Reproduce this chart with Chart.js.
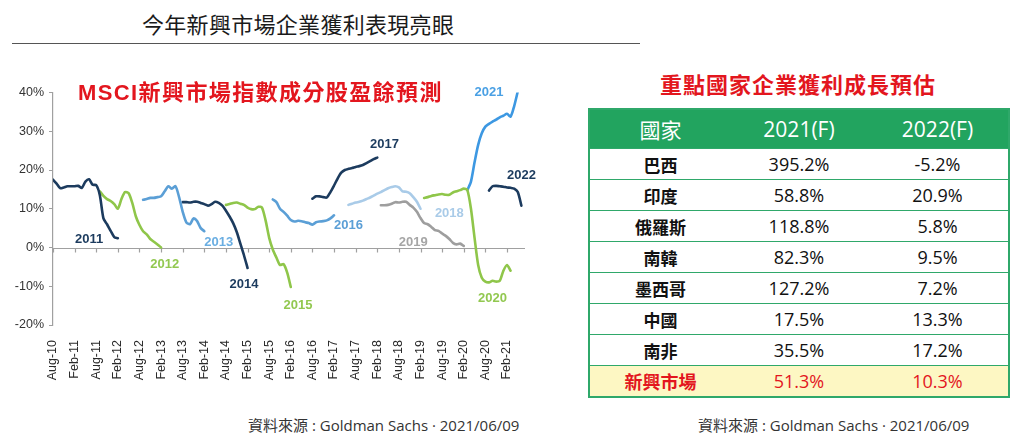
<!DOCTYPE html>
<html>
<head>
<meta charset="utf-8">
<script src="https://cdn.jsdelivr.net/npm/chart.js@4.4.1/dist/chart.umd.min.js"></script>
<style>
  html,body{margin:0;padding:0;}
  body{width:1024px;height:440px;background:#fff;position:relative;overflow:hidden;font-family:"Open Sans","Noto Sans CJK TC",sans-serif;}
  .abs{position:absolute;white-space:nowrap;}
  #mainTitle{left:142px;top:8px;font-size:22px;letter-spacing:0.3px;color:#1a1a1a;line-height:30px;font-family:"Noto Sans CJK TC",sans-serif;}
  #rule{left:12px;top:43px;width:628px;height:0;border-top:1.5px solid #555;}
  #chartTitle{left:78px;top:79px;font-size:22px;font-weight:bold;letter-spacing:1.4px;color:#e3161e;line-height:28px;font-family:"Liberation Sans","Noto Sans CJK TC",sans-serif;}
  #chartBox{left:0;top:80px;width:540px;height:330px;}
  #tableTitle{left:588px;top:69px;width:420px;text-align:center;font-size:22px;font-weight:bold;letter-spacing:1px;color:#e3161e;line-height:28px;font-family:"Noto Sans CJK TC",sans-serif;}
  #tbl{left:588px;top:108px;width:420px;border-collapse:collapse;border:2px solid #2fa86a;table-layout:fixed;}
  #tbl th{background:#22a45f;color:#fff;font-weight:normal;font-size:21px;height:38px;padding:0;text-align:center;}
  #tbl td{height:30px;padding:0;text-align:center;border-top:1.5px solid #2fa86a;font-size:18px;color:#111;}
  #tbl td.name{font-family:"Noto Sans CJK TC",sans-serif;font-weight:bold;font-size:17px;}
  #tbl tr.em td{background:#fdf7c3;color:#e3161e;}
  #tbl tr.em td.name{font-size:18px;}
  .src{top:414px;font-size:15px;color:#333;line-height:22px;}
</style>
</head>
<body>
<div id="mainTitle" class="abs">今年新興市場企業獲利表現亮眼</div>
<div id="rule" class="abs"></div>
<div id="chartBox" class="abs"><canvas id="c" width="540" height="330"></canvas></div>
<div id="chartTitle" class="abs">MSCI新興市場指數成分股盈餘預測</div>
<div id="tableTitle" class="abs">重點國家企業獲利成長預估</div>
<table id="tbl" class="abs">
  <colgroup><col style="width:142px"><col style="width:136px"><col style="width:142px"></colgroup>
  <thead><tr id="hdr"></tr></thead>
  <tbody id="tbody"></tbody>
</table>
<div class="abs src" style="left:248px;">資料來源 : Goldman Sachs · 2021/06/09</div>
<div class="abs src" style="left:698px;">資料來源 : Goldman Sachs · 2021/06/09</div>

<script>
// ---------- DATA ----------
const tickLabels = ['Aug-10','Feb-11','Aug-11','Feb-12','Aug-12','Feb-13','Aug-13','Feb-14','Aug-14','Feb-15','Aug-15','Feb-16','Aug-16','Feb-17','Aug-17','Feb-18','Aug-18','Feb-19','Aug-19','Feb-20','Aug-20','Feb-21'];

const seriesNames = ['2011','2012','2013','2014','2015','2016','2017','2018','2019','2020','2021','2022'];
const seriesStart = ['Aug-10','Sep-11','Sep-12','Aug-13','Aug-14','Sep-15','Aug-16','Jun-17','Mar-18','Mar-19','Mar-20','Sep-20'];

const eps2011 = [17.5,16.5,15.3,15.5,15.8,15.8,15.8,15.9,15.4,17.0,17.6,16.2,16.1,13.5,7.5,6.0,4.3,2.7,2.4];
const eps2012 = [14.5,13.3,12.5,12.0,11.2,10.0,12.5,14.3,14.0,11.5,8.0,5.8,4.2,3.4,2.2,1.5,0.8,0.0];
const eps2013 = [12.3,12.5,12.8,12.8,13.0,13.2,14.5,15.8,15.2,15.8,13.0,9.2,6.5,6.0,7.5,6.8,5.0,4.2];
const eps2014 = [11.7,11.7,11.6,11.8,11.8,11.5,11.2,10.8,11.2,11.8,11.5,10.8,9.5,8.0,6.3,4.0,1.0,-2.0,-5.3];
const eps2015 = [11.0,11.2,11.5,11.6,11.3,11.0,10.3,9.9,9.9,10.5,10.3,7.0,2.5,-0.5,-2.6,-4.5,-4.3,-6.5,-10.2];
const eps2016 = [12.4,11.7,10.0,9.2,8.2,7.1,6.7,6.9,6.8,6.5,6.3,5.9,6.5,6.7,6.8,7.0,7.5,8.3];
const eps2017 = [12.6,13.2,13.2,13.0,12.9,14.3,16.0,17.8,19.3,20.0,20.3,20.5,20.8,21.0,21.3,21.8,22.3,22.8,23.2];
const eps2018 = [11.0,11.3,11.6,11.8,12.1,12.5,12.9,13.4,13.9,14.3,14.8,15.3,15.6,15.8,15.5,14.5,14.4,14.0,13.0,11.8,10.0];
const eps2019 = [10.9,10.9,11.0,11.3,11.7,11.6,11.8,11.8,11.0,10.3,9.2,7.6,6.3,6.0,5.3,4.5,4.3,3.6,3.0,2.2,1.2,0.8,1.0,0.4];
const eps2020 = [12.8,13.0,13.3,13.5,13.7,13.8,13.6,13.6,14.2,14.5,14.8,15.2,14.8,10.0,2.5,-4.5,-7.8,-8.8,-9.0,-8.6,-8.8,-8.6,-6.0,-4.5,-6.0];
const eps2021 = [14.8,17.0,22.0,26.5,29.5,31.2,31.9,32.5,33.0,33.6,34.0,34.5,33.8,36.5,40.3];
const eps2022 = [14.7,15.8,15.9,15.8,15.7,15.5,15.4,15.2,14.3,10.8];
const seriesValues = [eps2011,eps2012,eps2013,eps2014,eps2015,eps2016,eps2017,eps2018,eps2019,eps2020,eps2021,eps2022];

// label anchors (month label, value) for the year tags
const tagMonth = ['Jun-11','Mar-13','Jun-14','Jan-15','Apr-16','Jun-17','Apr-18','Oct-19','Dec-18','Oct-20','Sep-20','Jun-21'];
const tagValue = [2.1,-4.4,1.4,-9.5,-15.0,5.6,26.6,8.8,1.4,-13.1,40.1,18.6];

const tableHeader = ['國家','2021(F)','2022(F)'];
const countries = ['巴西','印度','俄羅斯','南韓','墨西哥','中國','南非','新興市場'];
const growth2021 = ['395.2%','58.8%','118.8%','82.3%','127.2%','17.5%','35.5%','51.3%'];
const growth2022 = ['-5.2%','20.9%','5.8%','9.5%','7.2%','13.3%','17.2%','10.3%'];

// ---------- STYLES ----------
const NAVY='#1c3b5e', GREEN='#8fc64a', LBLUE='#5b9fd6', PALE='#a9cbe8', GRAY='#9e9e9e', BLUE='#3d98e2';
const lineColors = [NAVY,GREEN,LBLUE,NAVY,GREEN,LBLUE,NAVY,PALE,GRAY,GREEN,BLUE,NAVY];
const tagColors  = [NAVY,'#92c850','#6aaee2',NAVY,'#92c850','#5b9fd6',NAVY,'#a9cbe8','#a6a6a6','#92c850','#4aa0e4',NAVY];

const MONS=['Jan','Feb','Mar','Apr','May','Jun','Jul','Aug','Sep','Oct','Nov','Dec'];
function monthIndex(s){ const [m,y]=s.split('-'); return (2000+parseInt(y,10)-2010)*12 + MONS.indexOf(m) - 7; }
const tickMap = {}; tickLabels.forEach(l=>{ tickMap[monthIndex(l)] = l; });

// ---------- TABLE ----------
const hdr=document.getElementById('hdr');
tableHeader.forEach(h=>{ const th=document.createElement('th'); th.textContent=h; hdr.appendChild(th); });
const tb=document.getElementById('tbody');
countries.forEach((c,i)=>{
  const tr=document.createElement('tr');
  if(i===countries.length-1) tr.className='em';
  [c,growth2021[i],growth2022[i]].forEach((v,j)=>{ const td=document.createElement('td'); td.textContent=v; if(j===0) td.className='name'; tr.appendChild(td); });
  tb.appendChild(tr);
});

// ---------- CHART ----------
const datasets = seriesNames.map((n,i)=>({
  label:n,
  data: seriesValues[i].map((v,k)=>({x: monthIndex(seriesStart[i])+k, y: v})),
  borderColor: lineColors[i],
  borderWidth: 2.6,
  pointRadius: 0,
  tension: 0.25,
  borderJoinStyle:'round',
  borderCapStyle:'round',
  fill:false
}));

const zeroAxisPlugin = {
  id:'zeroAxis',
  beforeDatasetsDraw(chart){
    const {ctx, chartArea, scales:{x,y}} = chart;
    const y0 = Math.round(y.getPixelForValue(0))+0.5;
    ctx.save();
    ctx.strokeStyle='#a0a0a0'; ctx.lineWidth=1.2;
    ctx.beginPath(); ctx.moveTo(chartArea.left,y0); ctx.lineTo(chartArea.right,y0);
    tickLabels.forEach(l=>{ const px=Math.round(x.getPixelForValue(monthIndex(l)))+0.5; ctx.moveTo(px,y0); ctx.lineTo(px,y0+4); });
    ctx.stroke(); ctx.restore();
  }
};
const tagPlugin = {
  id:'tags',
  afterDatasetsDraw(chart){
    const {ctx, scales:{x,y}} = chart;
    ctx.save();
    ctx.font='bold 13px "Liberation Sans", Arial, sans-serif';
    ctx.textAlign='center'; ctx.textBaseline='middle';
    seriesNames.forEach((n,i)=>{
      ctx.fillStyle=tagColors[i];
      ctx.fillText(n, x.getPixelForValue(monthIndex(tagMonth[i])), y.getPixelForValue(tagValue[i]));
    });
    ctx.restore();
  }
};

new Chart(document.getElementById('c'),{
  type:'line',
  data:{datasets},
  plugins:[zeroAxisPlugin, tagPlugin],
  options:{
    responsive:false, animation:false,
    layout:{padding:{top:8,right:15,left:0,bottom:0}},
    plugins:{legend:{display:false}, tooltip:{enabled:false}},
    scales:{
      x:{
        type:'linear', min:0, max:131,
        grid:{display:false}, border:{display:false},
        afterBuildTicks:(s)=>{ s.ticks = tickLabels.map(l=>({value: monthIndex(l)})); },
        afterFit:(s)=>{ s.height=85; },
        ticks:{autoSkip:false, maxRotation:90, minRotation:90, padding:7, color:'#2a2a2a',
          font:{family:'"Liberation Sans", Arial, sans-serif', size:12.5},
          callback:(v)=>tickMap[v] || ''}
      },
      y:{
        min:-20, max:40,
        afterFit:(s)=>{ s.width=53; },
        grid:{display:true, drawOnChartArea:false, drawTicks:true, tickLength:4, color:'#a0a0a0'},
        border:{display:true, color:'#a0a0a0', width:1.2},
        ticks:{stepSize:10, padding:5, color:'#333',
          font:{family:'"Liberation Sans", Arial, sans-serif', size:12.5},
          callback:(v)=>v+'%'}
      }
    }
  }
});
</script>
</body>
</html>
